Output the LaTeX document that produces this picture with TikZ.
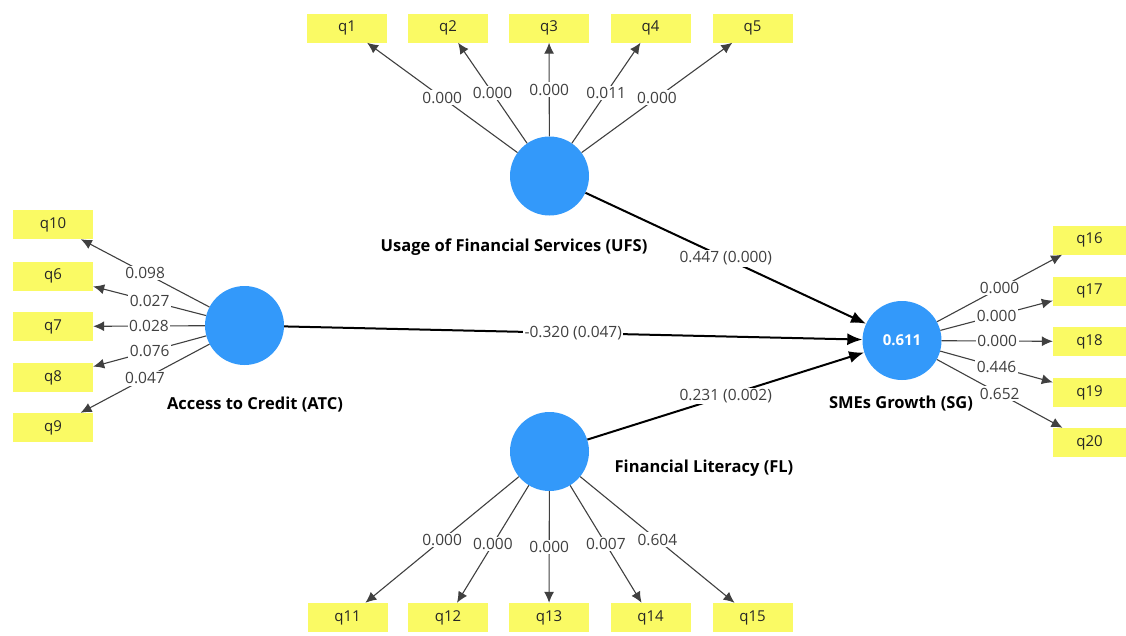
\documentclass[tikz,border=0pt]{standalone}
\usepackage{fontspec}
\setmainfont{Open Sans}
\usetikzlibrary{calc, arrows.meta}
\definecolor{lvblue}{RGB}{51,153,250}
\definecolor{indyel}{RGB}{250,250,100}
\tikzset{
    ind/.style={fill=indyel, minimum width=80pt, minimum height=29pt, inner sep=0pt, text=black!85, font=\fontsize{15}{17}\selectfont},
    indr/.style={ind, minimum width=73pt},
    lv/.style={circle, fill=lvblue, minimum size=79pt, inner sep=0pt, text=white, font=\bfseries\fontsize{15}{17}\selectfont},
    lvname/.style={font=\bfseries\fontsize{16.5}{19}\selectfont},
    load/.style={draw=black!75, line width=1.1pt, -{Latex[length=11pt,width=10pt]}},
    struct/.style={draw=black, line width=2pt, -{Latex[length=15pt,width=12pt]}},
    val/.style={fill=white, inner sep=1.5pt, text=black!75, font=\fontsize{15.5}{17}\selectfont}
}

\begin{document}
\begin{tikzpicture}[x=1pt,y=-1pt]
                \useasboundingbox (0,0) rectangle (1126,635);
                \node[lv] (UFS) at (549.5,176) {};
                \node[lv] (ATC) at (244.5,325.5) {};
                \node[lv] (FL) at (549.5,451.5) {};
                \node[lv] (SG) at (902,340.5) {0.611};
                \node[lvname] (UFSname) at (514,247) {Usage of Financial Services (UFS)};
                \node[lvname] (ATCname) at (255,405) {Access to Credit (ATC)};
                \node[lvname] (FLname) at (704,468) {Financial Literacy (FL)};
                \node[lvname] (SGname) at (901,404) {SMEs Growth (SG)};
                \foreach \n/\x/\v in {1/347/0.000,2/448/0.000,3/549/0.000,4/650.5/0.011,5/752.5/0.000}{
                    \node[ind] (q\n) at (\x,28) {q\n};
                    \draw[load] (UFS) -- node[val] {\v} (q\n);
                }
                \foreach \n/\y/\v in {10/224.5/0.098,6/276/0.027,7/326.5/0.028,8/377.5/0.076,9/427.5/0.047}{
                    \node[ind] (q\n) at (53,\y) {q\n};
                    \draw[load] (ATC) -- node[val] {\v} (q\n);
                }
                \foreach \n/\x/\v in {11/347.5/0.000,12/448/0.000,13/549/0.000,14/650.5/0.007,15/752.5/0.604}{
                    \node[ind] (q\n) at (\x,617.5) {q\n};
                    \draw[load] (FL) -- node[val] {\v} (q\n);
                }
                \foreach \n/\y/\v in {16/240/0.000,17/291/0.000,18/341.5/0.000,19/392.5/0.446,20/442.5/0.652}{
                    \node[indr] (q\n) at (1089.5,\y) {q\n};
                    \draw[load] (SG) -- node[val] {\v} (q\n);
                }
                \draw[struct] (UFS) -- node[val] {0.447 (0.000)} (SG);
                \draw[struct] (ATC) -- node[val] {-0.320 (0.047)} (SG);
                \draw[struct] (FL) -- node[val] {0.231 (0.002)} (SG);
            \end{tikzpicture}
\end{document}
